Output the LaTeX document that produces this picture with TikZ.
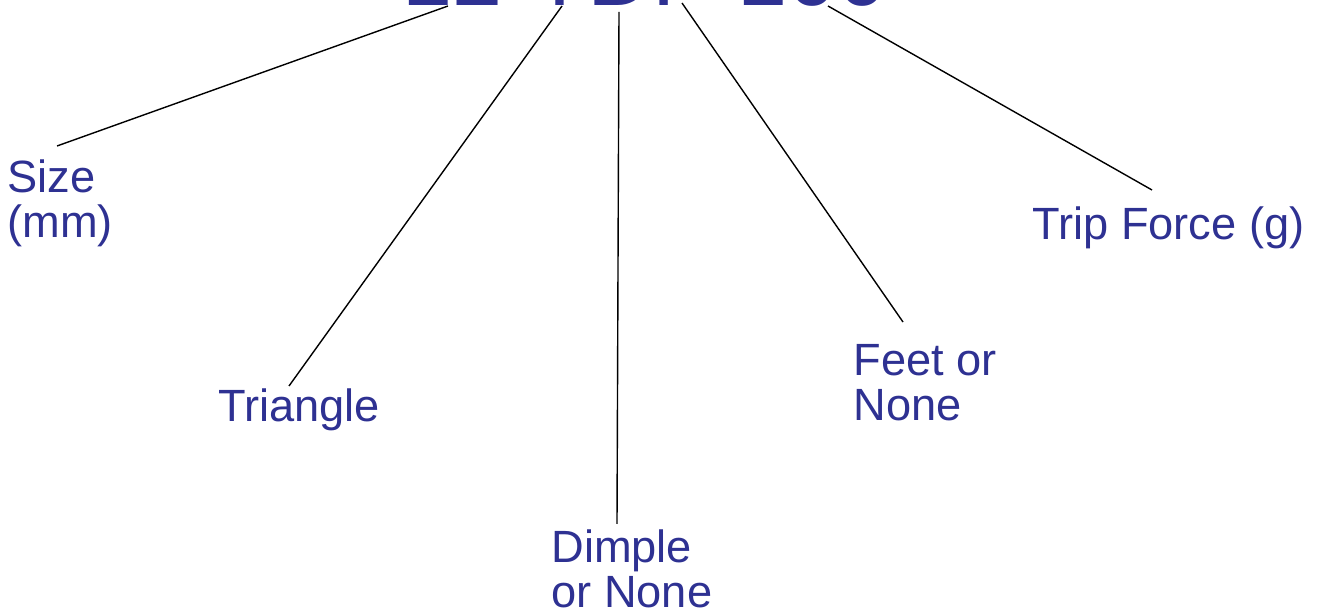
\documentclass[tikz,border=0pt]{standalone}
\usepackage{fontspec}
\setmainfont{Liberation Sans}
\usepackage{tikz}
\definecolor{codeblue}{RGB}{46,49,146}
\tikzset{
  lbl/.style={anchor=base west,inner sep=0pt,align=left,text=codeblue,
    font=\fontsize{22.6pt}{22.5pt}\selectfont},
  leader/.style={line width=0.7pt,black}
}

\begin{document}
\begin{tikzpicture}[x=0.5pt,y=-0.5pt]
  \clip (0,0) rectangle (1319,614);
  \node[anchor=base west,inner sep=0pt,text=codeblue,
    font=\fontsize{45pt}{45pt}\selectfont] (code) at (402,6) {12-TDF-100};
  % two-line labels: base is the last line
  \node[lbl] (size) at (7,238) {Size\\(mm)};
  \node[lbl] (tri) at (218,422) {Triangle};
  \node[lbl] (dimple) at (551,608) {Dimple\\or None};
  \node[lbl] (feet) at (853,421) {Feet or\\None};
  \node[lbl] (trip) at (1032,240) {Trip Force (g)};
  % leader ends
  \coordinate (c1) at (448,6);   \coordinate (s1) at (57,146);
  \coordinate (c2) at (562,6);   \coordinate (s2) at (289,386);
  \coordinate (c3) at (619,12);  \coordinate (s3) at (617,524);
  \coordinate (c4) at (682,3);   \coordinate (s4) at (903,322);
  \coordinate (c5) at (828,6);   \coordinate (s5) at (1152,190);
  \foreach \i in {1,...,5}
    \draw[leader] (c\i) -- (s\i);
\end{tikzpicture}
\end{document}
